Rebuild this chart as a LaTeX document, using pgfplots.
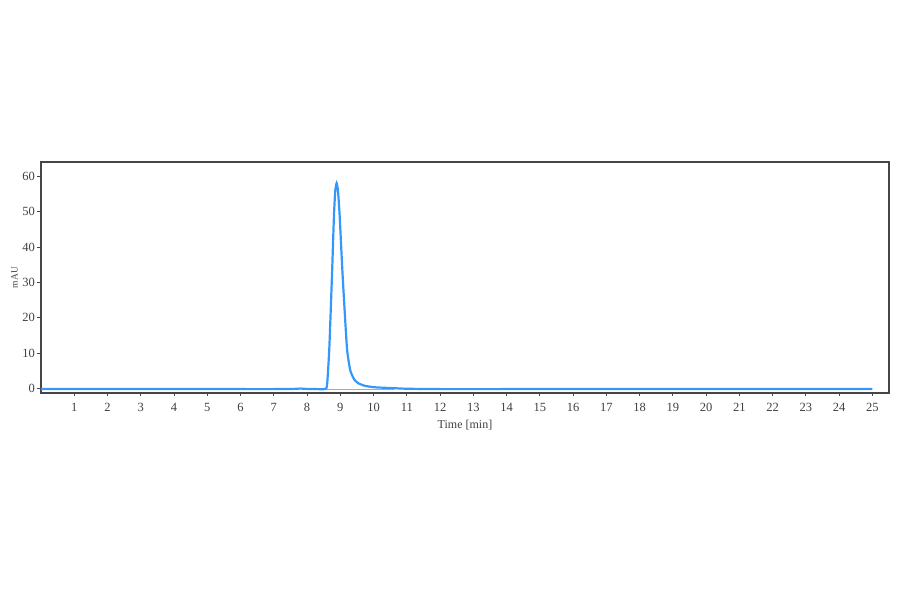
\documentclass[border=0pt]{standalone}
\usepackage{pgfplots}
\pgfplotsset{compat=1.18}
\usepackage{fontspec}
\setmainfont{Liberation Serif}
\definecolor{trace}{RGB}{52,152,250}
\definecolor{axgray}{RGB}{70,70,70}
\begin{document}
\begin{tikzpicture}
\path[use as bounding box] (0pt,0pt) rectangle (900pt,594pt);
\begin{axis}[
  at={(41pt,201pt)}, anchor=south west,
  scale only axis, width=848pt, height=231pt,
  xmin=0, xmax=25.5, ymin=-1.2, ymax=64,
  xtick={1,2,...,25}, ytick={0,10,...,60},
  tick align=outside, major tick length=3.5pt,
  axis line style={axgray, line width=1.3pt},
  every tick/.style={axgray, line width=0.9pt},
  xtick pos=bottom, ytick pos=left,
  tick label style={font=\fontsize{12.5}{12.5}\selectfont, text=black!75},
  /pgf/number format/assume math mode=true,
  xticklabel style={yshift=-3pt},
  yticklabel style={xshift=1pt},
  xlabel={Time [min]}, ylabel={mAU},
  xlabel style={font=\fontsize{12}{12}\selectfont, text=black!75, yshift=-2pt},
  ylabel style={font=\fontsize{9.5}{9.5}\selectfont, text=black!75, yshift=-2pt},
  clip=false,
]
\addplot[trace!70, line width=0.6pt] coordinates {(8.5,-0.1) (10.6,-0.1)};
\addplot[trace, line width=2.2pt, smooth, tension=0.3] coordinates {
(0,-0.1) (2,-0.1) (4,-0.1) (6,-0.1) (7.0,-0.1) (7.6,-0.05) (7.8,0.05) (8.0,-0.05) (8.3,-0.1)
(8.52,-0.1) (8.6,0.8) (8.67,11.5) (8.75,32) (8.81,49) (8.85,56) (8.89,58) (8.93,56) (8.98,49)
(9.07,32) (9.2,11.5) (9.3,5.2) (9.42,2.6) (9.55,1.5) (9.75,0.8) (10.05,0.4) (10.5,0.2)
(11,0.0) (12,-0.1) (14,-0.1) (17,-0.1) (20,-0.1) (23,-0.1) (25,-0.1)};
\end{axis}
\end{tikzpicture}
\end{document}
